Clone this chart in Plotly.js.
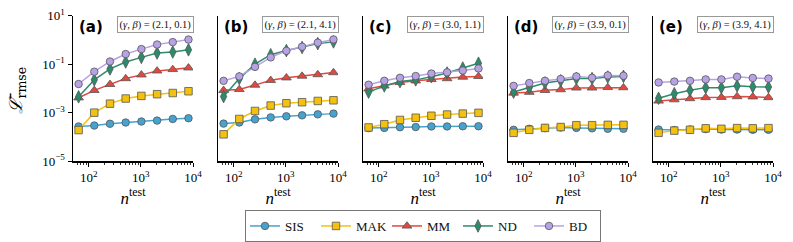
<!DOCTYPE html>
<html>
<head>
<meta charset="utf-8">
<script src="https://cdn.plot.ly/plotly-3.0.1.min.js"></script>
<style>html,body{margin:0;padding:0;background:#fff;}#chart{width:793px;height:242px;}</style>
</head>
<body>
<div id="chart"></div>
<script>
// ---- data ----
const nTest = [64, 128, 256, 512, 1024, 2048, 4096, 8192];
const seriesNames = ["SIS", "MAK", "MM", "ND", "BD"];
const panelLabels = ["(a)", "(b)", "(c)", "(d)", "(e)"];
const panelParams = ["(2.1, 0.1)", "(2.1, 4.1)", "(3.0, 1.1)", "(3.9, 0.1)", "(3.9, 4.1)"];

const SIS_a = [2.75e-4, 3.0e-4, 3.55e-4, 4.0e-4, 4.4e-4, 4.8e-4, 5.6e-4, 6.0e-4];
const MAK_a = [1.95e-4, 1.02e-3, 2.4e-3, 3.9e-3, 5.0e-3, 5.9e-3, 6.6e-3, 7.8e-3];
const MM_a  = [4.2e-3, 8.5e-3, 1.5e-2, 2.6e-2, 3.7e-2, 5.4e-2, 6.2e-2, 7.2e-2];
const ND_a  = [4.6e-3, 2.3e-2, 6.5e-2, 0.126, 0.195, 0.295, 0.324, 0.40];
const BD_a  = [1.55e-2, 5.0e-2, 0.132, 0.267, 0.427, 0.66, 0.83, 1.06];

const SIS_b = [3.6e-4, 4.0e-4, 5.4e-4, 6.5e-4, 7.2e-4, 7.9e-4, 8.7e-4, 9.3e-4];
const MAK_b = [1.3e-4, 5.6e-4, 1.2e-3, 2.0e-3, 2.5e-3, 2.75e-3, 3.1e-3, 3.3e-3];
const MM_b  = [8.5e-3, 9.3e-3, 1.4e-2, 2.2e-2, 2.8e-2, 3.3e-2, 3.8e-2, 4.6e-2];
const ND_b  = [4.7e-3, 2.6e-2, 0.102, 0.251, 0.372, 0.50, 0.72, 0.85];
const BD_b  = [2.1e-2, 3.2e-2, 7.9e-2, 0.195, 0.363, 0.537, 0.79, 1.07];

const SIS_c = [2.35e-4, 2.4e-4, 2.55e-4, 2.6e-4, 2.75e-4, 2.75e-4, 2.8e-4, 2.8e-4];
const MAK_c = [2.5e-4, 3.4e-4, 5.1e-4, 6.3e-4, 7.6e-4, 8.5e-4, 9.3e-4, 1.0e-3];
const MM_c  = [9.8e-3, 1.3e-2, 1.8e-2, 2.1e-2, 2.4e-2, 2.6e-2, 3.0e-2, 3.2e-2];
const ND_c  = [7.2e-3, 1.3e-2, 1.95e-2, 2.3e-2, 3.1e-2, 4.4e-2, 7.1e-2, 0.112];
const BD_c  = [1.45e-2, 2.1e-2, 2.8e-2, 3.3e-2, 4.2e-2, 4.7e-2, 5.6e-2, 6.8e-2];

const SIS_d = [2.0e-4, 2.2e-4, 2.35e-4, 2.5e-4, 2.4e-4, 2.3e-4, 2.2e-4, 2.2e-4];
const MAK_d = [1.5e-4, 2.0e-4, 2.4e-4, 2.6e-4, 3.1e-4, 3.1e-4, 3.2e-4, 3.2e-4];
const MM_d  = [6.6e-3, 7.1e-3, 8.5e-3, 9.1e-3, 1.07e-2, 1.07e-2, 1.12e-2, 1.1e-2];
const ND_d  = [7.2e-3, 1.1e-2, 1.7e-2, 2.1e-2, 2.6e-2, 2.6e-2, 3.0e-2, 3.2e-2];
const BD_d  = [1.3e-2, 1.7e-2, 2.1e-2, 2.5e-2, 3.2e-2, 2.8e-2, 3.5e-2, 3.4e-2];

const SIS_e = [2.05e-4, 1.95e-4, 2.05e-4, 2.15e-4, 2.05e-4, 2.05e-4, 2.0e-4, 2.0e-4];
const MAK_e = [1.5e-4, 1.85e-4, 2.0e-4, 2.3e-4, 2.2e-4, 2.35e-4, 2.3e-4, 2.35e-4];
const MM_e  = [3.1e-3, 3.5e-3, 3.9e-3, 4.3e-3, 4.4e-3, 4.7e-3, 4.6e-3, 4.3e-3];
const ND_e  = [4.0e-3, 6.2e-3, 8.5e-3, 1.1e-2, 1.1e-2, 1.3e-2, 1.2e-2, 1.17e-2];
const BD_e  = [1.8e-2, 1.95e-2, 2.1e-2, 2.4e-2, 2.4e-2, 3.1e-2, 2.75e-2, 2.6e-2];

const xTickVals = [100, 1000, 10000];
const xTickText = ["10<sup>2</sup>", "10<sup>3</sup>", "10<sup>4</sup>"];
const xMinorVals = [60, 70, 80, 90, 200, 300, 400, 500, 600, 700, 800, 900,
                    2000, 3000, 4000, 5000, 6000, 7000, 8000, 9000];
const yTickVals = [10, 0.1, 0.001, 0.00001];
const yTickText = ["10<sup>1</sup>", "10<sup>−1</sup>", "10<sup>−3</sup>", "10<sup>−5</sup>"];

// ---- styling ----
const panels = [
  [SIS_a, MAK_a, MM_a, ND_a, BD_a],
  [SIS_b, MAK_b, MM_b, ND_b, BD_b],
  [SIS_c, MAK_c, MM_c, ND_c, BD_c],
  [SIS_d, MAK_d, MM_d, ND_d, BD_d],
  [SIS_e, MAK_e, MM_e, ND_e, BD_e]
];
const colors = ["#46a3cf", "#f4c10f", "#e2483d", "#2b8b6b", "#b8a2e6"];
const symbols = ["circle", "square", "triangle-up", "diamond-tall", "circle"];
const sizes = [7.5, 7.5, 8.5, 9, 7.5];
const W = 793, H = 242;
const left0 = 73, pw = 120, gap = 25;
const yDom = [80 / H, 226 / H];
const serif = "Liberation Serif, Times New Roman, serif";

const traces = [];
const layout = {
  width: W, height: H,
  margin: {l: 0, r: 0, t: 0, b: 0},
  paper_bgcolor: "#fff", plot_bgcolor: "#fff",
  showlegend: true,
  legend: {
    orientation: "h", x: 423 / W, xanchor: "center", y: (H - 211) / H, yanchor: "top",
    bordercolor: "#777", borderwidth: 1, font: {family: serif, size: 13, color: "#111"},
    itemwidth: 30, tracegroupgap: 0, entrywidth: 26, entrywidthmode: "pixels"
  },
  annotations: [],
  font: {family: serif, color: "#111"}
};

panels.forEach((p, i) => {
  const k = i === 0 ? "" : String(i + 1);
  const xa = "x" + k, ya = "y" + k;
  p.forEach((vals, s) => {
    traces.push({
      x: nTest, y: vals, xaxis: xa, yaxis: ya, type: "scatter", mode: "lines+markers",
      name: seriesNames[s], legendgroup: seriesNames[s], showlegend: i === 0,
      line: {color: colors[s], width: 1.5},
      marker: {symbol: symbols[s], size: sizes[s], color: colors[s], line: {color: "#555", width: 0.8}}
    });
  });
  const x0 = left0 + i * (pw + gap);
  layout["xaxis" + k] = {
    type: "log", range: [Math.log10(50), 4.0], domain: [x0 / W, (x0 + pw) / W],
    anchor: ya, showline: true, linecolor: "#000", linewidth: 1.5, showgrid: false, zeroline: false,
    ticks: "outside", ticklen: 4, tickwidth: 1, tickcolor: "#000",
    tickmode: "array", tickvals: xTickVals, ticktext: xTickText,
    tickfont: {family: serif, size: 13, color: "#000"},
    minor: {tickmode: "array", tickvals: xMinorVals, ticks: "outside", ticklen: 2, tickwidth: 0.8, tickcolor: "#000", showgrid: false},
    title: {text: "<i>n</i><sup>test</sup>", font: {family: serif, size: 17, color: "#000"}, standoff: 2}
  };
  layout["yaxis" + k] = {
    type: "log", range: [-5, 1], domain: yDom, anchor: xa,
    showline: true, linecolor: "#000", linewidth: 1.5, showgrid: false, zeroline: false,
    ticks: i === 0 ? "outside" : "", ticklen: 4, tickwidth: 1, tickcolor: "#000",
    tickmode: "array", tickvals: yTickVals, ticktext: yTickText,
    showticklabels: i === 0,
    tickfont: {family: serif, size: 13, color: "#000"}
  };
  layout.annotations.push({
    xref: xa + " domain", yref: ya + " domain", x: 0.03, y: 1.0, xanchor: "left", yanchor: "top",
    text: "<b>" + panelLabels[i] + "</b>", showarrow: false,
    font: {family: "DejaVu Sans", size: 15, color: "#000"}
  });
  layout.annotations.push({
    xref: xa + " domain", yref: ya + " domain", x: 1.01, y: 1.0, xanchor: "right", yanchor: "top",
    text: "(<i>γ</i>, <i>β</i>) = " + panelParams[i], showarrow: false,
    font: {family: serif, size: 10.5, color: "#111"},
    bordercolor: "#999", borderwidth: 1, borderpad: 1.5, bgcolor: "#fff"
  });
});

layout.annotations.push({
  xref: "paper", yref: "paper", x: 17 / W, y: (H - 91) / H, xanchor: "center", yanchor: "middle",
  textangle: -90, showarrow: false,
  text: "<i>ℒ̄</i><sub>rmse</sub>",
  font: {family: "DejaVu Serif", size: 18, color: "#000"}
});

Plotly.newPlot("chart", traces, layout, {staticPlot: true, displayModeBar: false});
</script>
</body>
</html>
